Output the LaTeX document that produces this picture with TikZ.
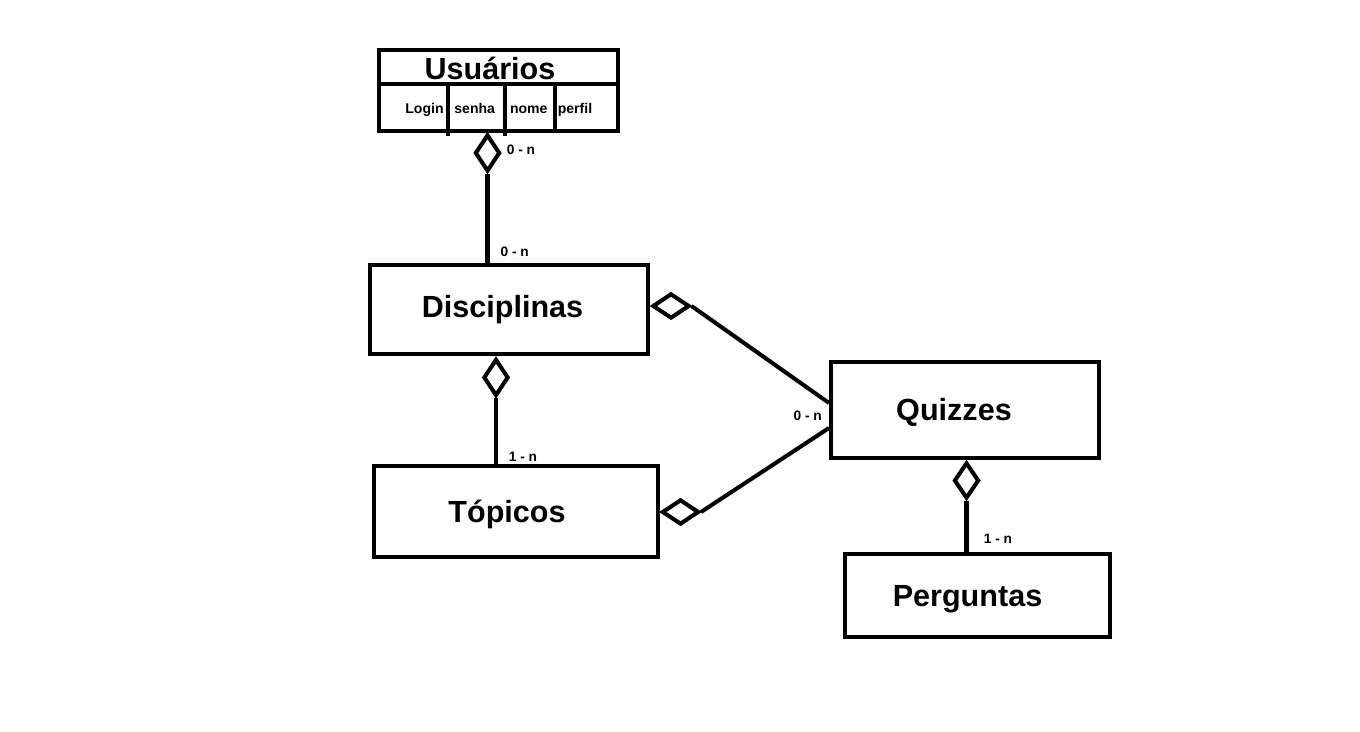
\documentclass[tikz,border=0pt]{standalone}
\usepackage{fontspec}
\setmainfont{Liberation Sans}
\usetikzlibrary{shapes.geometric}

\begin{document}
\begin{tikzpicture}[x=0.02cm,y=-0.02cm,line width=2.3pt,
    entity/.style={draw,rectangle,inner sep=0pt},
    title/.style={font=\fontsize{17.4}{20}\selectfont\bfseries,inner sep=0pt,anchor=base},
    attr/.style={font=\fontsize{8}{9.6}\selectfont\bfseries,inner sep=0pt,anchor=base},
    mult/.style={font=\fontsize{7.8}{9.4}\selectfont\bfseries,inner sep=0pt,anchor=base},
    agg/.style={draw,diamond,inner sep=0pt,fill=white}]
        % white page with the same size as the reference
        \fill[white] (0,0) rectangle (1360,732);
        \useasboundingbox (0,0) rectangle (1360,732);

        % the boxes of the entities
        \node[entity,minimum width=4.78cm,minimum height=1.62cm] (usuarios) at (498.5,90.5) {};
        \node[entity,minimum width=5.56cm,minimum height=1.78cm] (disciplinas) at (509,309.5) {};
        \node[entity,minimum width=5.68cm,minimum height=1.82cm] (topicos) at (516,511.5) {};
        \node[entity,minimum width=5.36cm,minimum height=1.92cm] (quizzes) at (965,410) {};
        \node[entity,minimum width=5.30cm,minimum height=1.66cm] (perguntas) at (977.5,595.5) {};

        % names of the entities
        \node[title] (usuarios-txt) at (490,79.3) {Usuários};
        \node[title] (disciplinas-txt) at (502.5,318) {Disciplinas};
        \node[title] (topicos-txt) at (507,522.7) {Tópicos};
        \node[title] (quizzes-txt) at (954,420.7) {Quizzes};
        \node[title] (perguntas-txt) at (967.5,606.7) {Perguntas};

        % header and columns of Usuarios
        \draw (usuarios.west |- 0,84) -- (usuarios.east |- 0,84);  % header line
        \draw (448,84) -- (448,136);
        \draw (505,84) -- (505,136);
        \draw (555,84) -- (usuarios.south -| 555,0);
        \node[attr] (login) at (424.5,114) {Login};
        \node[attr] (senha) at (474.7,114) {senha};
        \node[attr] (nome) at (528.8,114) {nome};
        \node[attr] (perfil) at (575,114) {perfil};

        % aggregation diamonds
        \node[agg,minimum width=0.50cm,minimum height=0.74cm] (agg-usu) at (487.5,153) {};
        \node[agg,minimum width=0.50cm,minimum height=0.74cm] (agg-disc) at (496,377.5) {};
        \node[agg,minimum width=0.50cm,minimum height=0.72cm] (agg-quiz) at (966.5,480.5) {};
        \node[agg,minimum width=0.74cm,minimum height=0.50cm] (agg-dq) at (671,306) {};
        \node[agg,minimum width=0.74cm,minimum height=0.50cm] (agg-tq) at (680.5,512) {};

        % connections
        \draw (agg-usu.south) -- (agg-usu.south |- disciplinas.north);
        \draw (agg-disc.south) -- (agg-disc.south |- topicos.north);
        \draw (agg-quiz.south) -- (agg-quiz.south |- perguntas.north);
        \draw (agg-dq.east) -- ([yshift=0.14cm]quizzes.west);
        \draw (agg-tq.east) -- ([yshift=-0.36cm]quizzes.west);

        % multiplicities
        \node[mult] (m-usu) at (521,155) {0 - n};
        \node[mult] (m-disc) at (514.7,256.7) {0 - n};
        \node[mult] (m-top) at (523,461.7) {1 - n};
        \node[mult] (m-quiz) at (807.7,420.7) {0 - n};
        \node[mult] (m-perg) at (998,544) {1 - n};
    \end{tikzpicture}
\end{document}
